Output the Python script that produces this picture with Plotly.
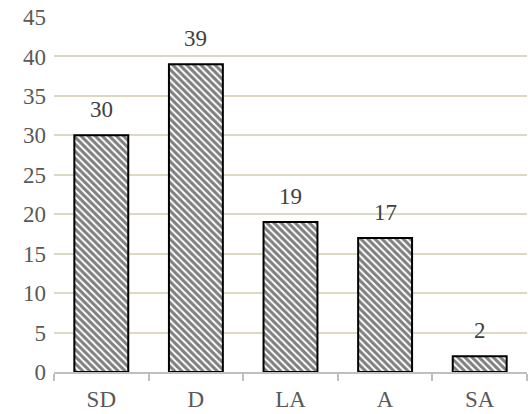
import plotly.graph_objects as go

categories = ["SD", "D", "LA", "A", "SA"]
counts = [30, 39, 19, 17, 2]

SERIF = "Liberation Serif"

fig = go.Figure()
fig.add_trace(go.Bar(
    x=categories,
    y=counts,
    width=0.57,
    marker=dict(
        color="white",
        line=dict(color="black", width=2),
        pattern=dict(shape="\\", size=5, solidity=0.6,
                     fgcolor="black", bgcolor="white", fillmode="overlay"),
    ),
    hoverinfo="skip",
))

# value labels above each bar
for c, v in zip(categories, counts):
    fig.add_annotation(x=c, y=v, text=str(v), showarrow=False,
                       yanchor="bottom", yshift=11,
                       font=dict(family=SERIF, size=23, color="#404040"))

fig.update_layout(
    width=528, height=414,
    margin=dict(l=54, r=1, t=17, b=42),
    paper_bgcolor="white", plot_bgcolor="white",
    showlegend=False,
    font=dict(family=SERIF, size=23, color="#595959"),
)
fig.update_xaxes(
    type="category",
    showline=True, linecolor="#bfbfbf", linewidth=2,
    ticks="outside", tickson="boundaries", ticklen=7, tickcolor="#bfbfbf", tickwidth=2,
    ticklabelstandoff=5,
    showgrid=False,
    tickfont=dict(family=SERIF, size=23, color="#595959"),
)
fig.update_yaxes(
    range=[0, 45], dtick=5, tick0=0,
    showgrid=True, gridcolor="#dcd8c2", gridwidth=1.5,
    zeroline=False, showline=False, ticks="",
    ticklabelstandoff=7,
    tickfont=dict(family=SERIF, size=23, color="#595959"),
)

fig.write_html("out.html")
